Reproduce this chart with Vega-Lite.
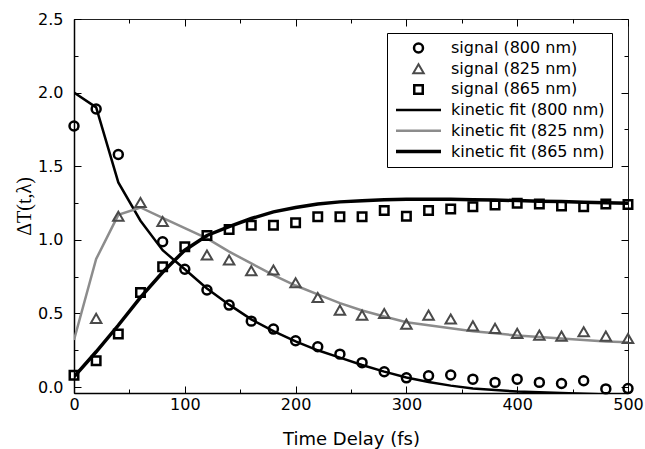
{
  "$schema": "https://vega.github.io/schema/vega-lite/v6.json",
  "width": 554,
  "height": 374,
  "autosize": {"type": "none"},
  "padding": {"left": 74, "top": 19, "right": 17, "bottom": 56},
  "background": "white",
  "config": {
    "view": {"stroke": "#222", "strokeWidth": 1},
    "axis": {
      "grid": false,
      "labelFont": "DejaVu Sans",
      "labelFontSize": 16,
      "labelColor": "#000",
      "tickColor": "#000",
      "tickWidth": 1,
      "domainColor": "#000",
      "titleColor": "#000",
      "labelFlush": false,
      "labelOverlap": false
    },
    "legend": {
      "orient": "none",
      "legendX": 313,
      "legendY": 14,
      "title": null,
      "strokeColor": "#000",
      "fillColor": "#fff",
      "padding": 7,
      "clipHeight": 16,
      "labelFont": "DejaVu Sans",
      "labelFontSize": 16,
      "labelOffset": 8,
      "rowPadding": 4.7,
      "labelLimit": 300
    }
  },
  "datasets": {
    "signal": [
      {"t": 0, "v": 1.773, "series": "signal (800 nm)"},
      {"t": 20, "v": 1.889, "series": "signal (800 nm)"},
      {"t": 40, "v": 1.58, "series": "signal (800 nm)"},
      {"t": 80, "v": 0.987, "series": "signal (800 nm)"},
      {"t": 100, "v": 0.8, "series": "signal (800 nm)"},
      {"t": 120, "v": 0.66, "series": "signal (800 nm)"},
      {"t": 140, "v": 0.557, "series": "signal (800 nm)"},
      {"t": 160, "v": 0.448, "series": "signal (800 nm)"},
      {"t": 180, "v": 0.394, "series": "signal (800 nm)"},
      {"t": 200, "v": 0.315, "series": "signal (800 nm)"},
      {"t": 220, "v": 0.274, "series": "signal (800 nm)"},
      {"t": 240, "v": 0.224, "series": "signal (800 nm)"},
      {"t": 260, "v": 0.166, "series": "signal (800 nm)"},
      {"t": 280, "v": 0.104, "series": "signal (800 nm)"},
      {"t": 300, "v": 0.063, "series": "signal (800 nm)"},
      {"t": 320, "v": 0.077, "series": "signal (800 nm)"},
      {"t": 340, "v": 0.082, "series": "signal (800 nm)"},
      {"t": 360, "v": 0.054, "series": "signal (800 nm)"},
      {"t": 380, "v": 0.032, "series": "signal (800 nm)"},
      {"t": 400, "v": 0.054, "series": "signal (800 nm)"},
      {"t": 420, "v": 0.032, "series": "signal (800 nm)"},
      {"t": 440, "v": 0.025, "series": "signal (800 nm)"},
      {"t": 460, "v": 0.043, "series": "signal (800 nm)"},
      {"t": 480, "v": -0.012, "series": "signal (800 nm)"},
      {"t": 500, "v": -0.01, "series": "signal (800 nm)"},
      {"t": 20, "v": 0.467, "series": "signal (825 nm)"},
      {"t": 40, "v": 1.16, "series": "signal (825 nm)"},
      {"t": 60, "v": 1.254, "series": "signal (825 nm)"},
      {"t": 80, "v": 1.125, "series": "signal (825 nm)"},
      {"t": 120, "v": 0.897, "series": "signal (825 nm)"},
      {"t": 140, "v": 0.863, "series": "signal (825 nm)"},
      {"t": 160, "v": 0.79, "series": "signal (825 nm)"},
      {"t": 180, "v": 0.795, "series": "signal (825 nm)"},
      {"t": 200, "v": 0.709, "series": "signal (825 nm)"},
      {"t": 220, "v": 0.609, "series": "signal (825 nm)"},
      {"t": 240, "v": 0.523, "series": "signal (825 nm)"},
      {"t": 260, "v": 0.489, "series": "signal (825 nm)"},
      {"t": 280, "v": 0.5, "series": "signal (825 nm)"},
      {"t": 300, "v": 0.428, "series": "signal (825 nm)"},
      {"t": 320, "v": 0.489, "series": "signal (825 nm)"},
      {"t": 340, "v": 0.462, "series": "signal (825 nm)"},
      {"t": 360, "v": 0.416, "series": "signal (825 nm)"},
      {"t": 380, "v": 0.399, "series": "signal (825 nm)"},
      {"t": 400, "v": 0.365, "series": "signal (825 nm)"},
      {"t": 420, "v": 0.353, "series": "signal (825 nm)"},
      {"t": 440, "v": 0.346, "series": "signal (825 nm)"},
      {"t": 460, "v": 0.376, "series": "signal (825 nm)"},
      {"t": 480, "v": 0.346, "series": "signal (825 nm)"},
      {"t": 500, "v": 0.33, "series": "signal (825 nm)"},
      {"t": 0, "v": 0.08, "series": "signal (865 nm)"},
      {"t": 20, "v": 0.179, "series": "signal (865 nm)"},
      {"t": 40, "v": 0.36, "series": "signal (865 nm)"},
      {"t": 60, "v": 0.643, "series": "signal (865 nm)"},
      {"t": 80, "v": 0.818, "series": "signal (865 nm)"},
      {"t": 100, "v": 0.953, "series": "signal (865 nm)"},
      {"t": 120, "v": 1.03, "series": "signal (865 nm)"},
      {"t": 140, "v": 1.071, "series": "signal (865 nm)"},
      {"t": 160, "v": 1.1, "series": "signal (865 nm)"},
      {"t": 180, "v": 1.1, "series": "signal (865 nm)"},
      {"t": 200, "v": 1.116, "series": "signal (865 nm)"},
      {"t": 220, "v": 1.157, "series": "signal (865 nm)"},
      {"t": 240, "v": 1.157, "series": "signal (865 nm)"},
      {"t": 260, "v": 1.157, "series": "signal (865 nm)"},
      {"t": 280, "v": 1.2, "series": "signal (865 nm)"},
      {"t": 300, "v": 1.16, "series": "signal (865 nm)"},
      {"t": 320, "v": 1.2, "series": "signal (865 nm)"},
      {"t": 340, "v": 1.21, "series": "signal (865 nm)"},
      {"t": 360, "v": 1.225, "series": "signal (865 nm)"},
      {"t": 380, "v": 1.236, "series": "signal (865 nm)"},
      {"t": 400, "v": 1.248, "series": "signal (865 nm)"},
      {"t": 420, "v": 1.243, "series": "signal (865 nm)"},
      {"t": 440, "v": 1.23, "series": "signal (865 nm)"},
      {"t": 460, "v": 1.225, "series": "signal (865 nm)"},
      {"t": 480, "v": 1.243, "series": "signal (865 nm)"},
      {"t": 500, "v": 1.24, "series": "signal (865 nm)"}
    ],
    "fit": [
      {"t": 0, "v": 2.0, "series": "kinetic fit (800 nm)"},
      {"t": 20, "v": 1.9, "series": "kinetic fit (800 nm)"},
      {"t": 40, "v": 1.39, "series": "kinetic fit (800 nm)"},
      {"t": 60, "v": 1.13, "series": "kinetic fit (800 nm)"},
      {"t": 80, "v": 0.93, "series": "kinetic fit (800 nm)"},
      {"t": 100, "v": 0.8, "series": "kinetic fit (800 nm)"},
      {"t": 120, "v": 0.67, "series": "kinetic fit (800 nm)"},
      {"t": 140, "v": 0.56, "series": "kinetic fit (800 nm)"},
      {"t": 160, "v": 0.46, "series": "kinetic fit (800 nm)"},
      {"t": 180, "v": 0.38, "series": "kinetic fit (800 nm)"},
      {"t": 200, "v": 0.31, "series": "kinetic fit (800 nm)"},
      {"t": 220, "v": 0.25, "series": "kinetic fit (800 nm)"},
      {"t": 240, "v": 0.2, "series": "kinetic fit (800 nm)"},
      {"t": 260, "v": 0.15, "series": "kinetic fit (800 nm)"},
      {"t": 280, "v": 0.105, "series": "kinetic fit (800 nm)"},
      {"t": 300, "v": 0.065, "series": "kinetic fit (800 nm)"},
      {"t": 320, "v": 0.035, "series": "kinetic fit (800 nm)"},
      {"t": 340, "v": 0.01, "series": "kinetic fit (800 nm)"},
      {"t": 360, "v": -0.01, "series": "kinetic fit (800 nm)"},
      {"t": 380, "v": -0.02, "series": "kinetic fit (800 nm)"},
      {"t": 400, "v": -0.03, "series": "kinetic fit (800 nm)"},
      {"t": 420, "v": -0.035, "series": "kinetic fit (800 nm)"},
      {"t": 440, "v": -0.04, "series": "kinetic fit (800 nm)"},
      {"t": 460, "v": -0.045, "series": "kinetic fit (800 nm)"},
      {"t": 480, "v": -0.05, "series": "kinetic fit (800 nm)"},
      {"t": 500, "v": -0.05, "series": "kinetic fit (800 nm)"},
      {"t": 0, "v": 0.32, "series": "kinetic fit (825 nm)"},
      {"t": 20, "v": 0.87, "series": "kinetic fit (825 nm)"},
      {"t": 40, "v": 1.17, "series": "kinetic fit (825 nm)"},
      {"t": 60, "v": 1.22, "series": "kinetic fit (825 nm)"},
      {"t": 80, "v": 1.15, "series": "kinetic fit (825 nm)"},
      {"t": 100, "v": 1.08, "series": "kinetic fit (825 nm)"},
      {"t": 120, "v": 1.01, "series": "kinetic fit (825 nm)"},
      {"t": 140, "v": 0.92, "series": "kinetic fit (825 nm)"},
      {"t": 160, "v": 0.84, "series": "kinetic fit (825 nm)"},
      {"t": 180, "v": 0.76, "series": "kinetic fit (825 nm)"},
      {"t": 200, "v": 0.69, "series": "kinetic fit (825 nm)"},
      {"t": 220, "v": 0.63, "series": "kinetic fit (825 nm)"},
      {"t": 240, "v": 0.57, "series": "kinetic fit (825 nm)"},
      {"t": 260, "v": 0.52, "series": "kinetic fit (825 nm)"},
      {"t": 280, "v": 0.48, "series": "kinetic fit (825 nm)"},
      {"t": 300, "v": 0.44, "series": "kinetic fit (825 nm)"},
      {"t": 320, "v": 0.42, "series": "kinetic fit (825 nm)"},
      {"t": 340, "v": 0.4, "series": "kinetic fit (825 nm)"},
      {"t": 360, "v": 0.38, "series": "kinetic fit (825 nm)"},
      {"t": 380, "v": 0.365, "series": "kinetic fit (825 nm)"},
      {"t": 400, "v": 0.35, "series": "kinetic fit (825 nm)"},
      {"t": 420, "v": 0.34, "series": "kinetic fit (825 nm)"},
      {"t": 440, "v": 0.33, "series": "kinetic fit (825 nm)"},
      {"t": 460, "v": 0.32, "series": "kinetic fit (825 nm)"},
      {"t": 480, "v": 0.31, "series": "kinetic fit (825 nm)"},
      {"t": 500, "v": 0.305, "series": "kinetic fit (825 nm)"},
      {"t": 0, "v": 0.07, "series": "kinetic fit (865 nm)"},
      {"t": 20, "v": 0.24, "series": "kinetic fit (865 nm)"},
      {"t": 40, "v": 0.42, "series": "kinetic fit (865 nm)"},
      {"t": 60, "v": 0.61, "series": "kinetic fit (865 nm)"},
      {"t": 80, "v": 0.78, "series": "kinetic fit (865 nm)"},
      {"t": 100, "v": 0.93, "series": "kinetic fit (865 nm)"},
      {"t": 120, "v": 1.03, "series": "kinetic fit (865 nm)"},
      {"t": 140, "v": 1.09, "series": "kinetic fit (865 nm)"},
      {"t": 160, "v": 1.145, "series": "kinetic fit (865 nm)"},
      {"t": 180, "v": 1.19, "series": "kinetic fit (865 nm)"},
      {"t": 200, "v": 1.22, "series": "kinetic fit (865 nm)"},
      {"t": 220, "v": 1.243, "series": "kinetic fit (865 nm)"},
      {"t": 240, "v": 1.258, "series": "kinetic fit (865 nm)"},
      {"t": 260, "v": 1.266, "series": "kinetic fit (865 nm)"},
      {"t": 280, "v": 1.272, "series": "kinetic fit (865 nm)"},
      {"t": 300, "v": 1.275, "series": "kinetic fit (865 nm)"},
      {"t": 320, "v": 1.276, "series": "kinetic fit (865 nm)"},
      {"t": 340, "v": 1.275, "series": "kinetic fit (865 nm)"},
      {"t": 360, "v": 1.273, "series": "kinetic fit (865 nm)"},
      {"t": 380, "v": 1.27, "series": "kinetic fit (865 nm)"},
      {"t": 400, "v": 1.267, "series": "kinetic fit (865 nm)"},
      {"t": 420, "v": 1.263, "series": "kinetic fit (865 nm)"},
      {"t": 440, "v": 1.26, "series": "kinetic fit (865 nm)"},
      {"t": 460, "v": 1.256, "series": "kinetic fit (865 nm)"},
      {"t": 480, "v": 1.252, "series": "kinetic fit (865 nm)"},
      {"t": 500, "v": 1.248, "series": "kinetic fit (865 nm)"}
    ]
  },
  "layer": [
    {
      "data": {"name": "fit"},
      "mark": {"type": "line", "clip": true},
      "encoding": {
        "x": {
          "field": "t", "type": "quantitative",
          "scale": {"domain": [0, 500], "nice": false, "zero": false},
          "axis": {
            "orient": "top", "title": null, "labels": false, "domain": false,
            "values": [0, 50, 100, 150, 200, 250, 300, 350, 400, 450, 500],
            "tickSize": {"condition": {"test": "datum.value % 100 === 0", "value": -7}, "value": -4}
          }
        },
        "y": {
          "field": "v", "type": "quantitative",
          "scale": {"domain": [-0.04, 2.5], "nice": false, "zero": false},
          "axis": {
            "orient": "right", "title": null, "labels": false, "domain": false,
            "values": [0, 0.25, 0.5, 0.75, 1, 1.25, 1.5, 1.75, 2, 2.25, 2.5],
            "tickSize": {"condition": {"test": "abs(datum.value * 2 - round(datum.value * 2)) < 0.001", "value": -7}, "value": -4}
          }
        },
        "detail": {"field": "series"},
        "color": {
          "field": "series", "type": "nominal",
          "scale": {
            "domain": ["signal (800 nm)", "signal (825 nm)", "signal (865 nm)", "kinetic fit (800 nm)", "kinetic fit (825 nm)", "kinetic fit (865 nm)"],
            "range": ["#000000", "#4a4a4a", "#000000", "#000000", "#8c8c8c", "#000000"]
          }
        },
        "strokeWidth": {
          "field": "series", "type": "nominal",
          "scale": {
            "type": "ordinal",
            "domain": ["signal (800 nm)", "signal (825 nm)", "signal (865 nm)", "kinetic fit (800 nm)", "kinetic fit (825 nm)", "kinetic fit (865 nm)"],
            "range": [2.5, 2, 2.5, 2.5, 2.5, 3.5]
          }
        }
      }
    },
    {
      "data": {"name": "signal"},
      "mark": {"type": "point", "filled": false, "opacity": 1},
      "encoding": {
        "x": {
          "field": "t", "type": "quantitative",
          "scale": {"domain": [0, 500], "nice": false, "zero": false},
          "axis": {
            "orient": "bottom",
            "title": "Time Delay (fs)",
            "titleFont": "DejaVu Sans", "titleFontSize": 18, "titleFontWeight": "normal",
            "titlePadding": 15,
            "domainWidth": 1.5,
            "values": [0, 50, 100, 150, 200, 250, 300, 350, 400, 450, 500],
            "labelExpr": "datum.value % 100 === 0 ? datum.label : ''",
            "labelPadding": 10,
            "tickSize": {"condition": {"test": "datum.value % 100 === 0", "value": -7}, "value": -4}
          }
        },
        "y": {
          "field": "v", "type": "quantitative",
          "scale": {"domain": [-0.04, 2.5], "nice": false, "zero": false},
          "axis": {
            "orient": "left",
            "title": "ΔT(t,λ)",
            "titleFont": "Liberation Serif", "titleFontSize": 20, "titleFontWeight": "normal",
            "titlePadding": 3,
            "domainWidth": 1.5,
            "values": [0, 0.25, 0.5, 0.75, 1, 1.25, 1.5, 1.75, 2, 2.25, 2.5],
            "labelExpr": "abs(datum.value * 2 - round(datum.value * 2)) < 0.001 ? format(datum.value, '.1f') : ''",
            "labelPadding": 18,
            "tickSize": {"condition": {"test": "abs(datum.value * 2 - round(datum.value * 2)) < 0.001", "value": -7}, "value": -4}
          }
        },
        "color": {
          "field": "series", "type": "nominal",
          "scale": {
            "domain": ["signal (800 nm)", "signal (825 nm)", "signal (865 nm)", "kinetic fit (800 nm)", "kinetic fit (825 nm)", "kinetic fit (865 nm)"],
            "range": ["#000000", "#4a4a4a", "#000000", "#000000", "#8c8c8c", "#000000"]
          },
          "legend": {
            "encode": {
              "labels": {"update": {"fill": {"signal": "indexof(datum.label, '825') >= 0 ? '#8a8a8a' : '#000000'"}}},
              "legend": {"update": {"strokeWidth": {"value": 1.5}}}
            }
          }
        },
        "shape": {
          "field": "series", "type": "nominal",
          "scale": {
            "domain": ["signal (800 nm)", "signal (825 nm)", "signal (865 nm)", "kinetic fit (800 nm)", "kinetic fit (825 nm)", "kinetic fit (865 nm)"],
            "range": ["circle", "triangle-up", "square", "stroke", "stroke", "stroke"]
          }
        },
        "size": {
          "field": "series", "type": "nominal",
          "scale": {
            "type": "ordinal",
            "domain": ["signal (800 nm)", "signal (825 nm)", "signal (865 nm)", "kinetic fit (800 nm)", "kinetic fit (825 nm)", "kinetic fit (865 nm)"],
            "range": [80, 110, 72, 2025, 2025, 2025]
          }
        },
        "strokeWidth": {
          "field": "series", "type": "nominal",
          "scale": {
            "type": "ordinal",
            "domain": ["signal (800 nm)", "signal (825 nm)", "signal (865 nm)", "kinetic fit (800 nm)", "kinetic fit (825 nm)", "kinetic fit (865 nm)"],
            "range": [2.5, 2, 2.5, 2.5, 2.5, 3.5]
          }
        }
      }
    }
  ],
  "resolve": {"axis": {"x": "independent", "y": "independent"}}
}
